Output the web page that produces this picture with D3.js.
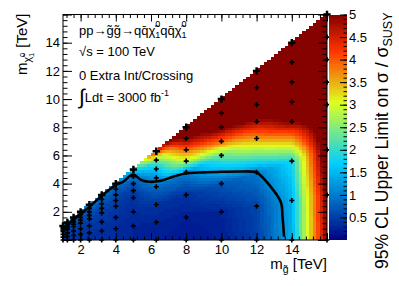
<!DOCTYPE html>
<html><head><meta charset="utf-8">
<script src="https://cdn.jsdelivr.net/npm/d3@7/dist/d3.min.js"></script>
<style>
body{margin:0;background:#fff}
svg{display:block}
text{font-family:"Liberation Sans",Arial,Helvetica,sans-serif;fill:#000;white-space:pre}
</style>
</head><body>
<svg id="chart" width="399" height="286"></svg>
<script>
// ---------------- data ----------------
const gluinoMasses = [1, 1.25, 1.6, 2, 2.5, 3.2, 4, 5, 6.3, 8, 10, 12, 14, 16];      // TeV
const massFractions = [0, 0.2, 0.4, 0.6, 0.7, 0.8, 0.9, 1.0];                      // m(chi)/m(gluino)
// 95% CL upper limit on sigma/sigma_SUSY, one row per gluino mass, one column per fraction
const limitRow1   = [0.45, 0.45, 0.5, 0.6, 0.7, 0.9, 1.3, 1.8];
const limitRow125 = [0.4, 0.4, 0.45, 0.55, 0.7, 0.95, 1.2, 1.5];
const limitRow16  = [0.4, 0.4, 0.45, 0.5, 0.6, 0.7, 0.85, 1.05];
const limitRow2   = [0.4, 0.4, 0.45, 0.5, 0.55, 0.65, 0.8, 1.05];
const limitRow25  = [0.4, 0.4, 0.45, 0.5, 0.55, 0.65, 0.8, 1.05];
const limitRow32  = [0.38, 0.38, 0.42, 0.48, 0.55, 0.65, 0.8, 1.05];
const limitRow4   = [0.35, 0.35, 0.4, 0.45, 0.5, 0.6, 0.75, 1.05];
const limitRow5   = [0.3, 0.3, 0.35, 0.4, 0.5, 0.65, 0.95, 1.6];
const limitRow63  = [0.25, 0.3, 0.4, 0.85, 1.2, 1.6, 2.4, 4.2];
const limitRow8   = [0.2, 0.25, 0.4, 1.05, 2.8, 3.9, 5.0, 6.0];
const limitRow10  = [0.25, 0.3, 0.7, 2.3, 3.9, 5.2, 6.0, 6.0];
const limitRow12  = [0.5, 0.55, 1.0, 3.6, 4.8, 6.0, 6.0, 6.0];
const limitRow14  = [1.4, 1.45, 1.8, 5.0, 6.0, 6.0, 6.0, 6.0];
const limitRow16T = [4.95, 5.05, 5.6, 6.0, 6.0, 6.0, 6.0, 6.0];
const limitValues = [limitRow1, limitRow125, limitRow16, limitRow2, limitRow25, limitRow32, limitRow4,
                     limitRow5, limitRow63, limitRow8, limitRow10, limitRow12, limitRow14, limitRow16T];
// limit = 1 contour
const contourX = [1.02, 1.25, 1.58, 2.05, 2.56, 3.18, 4.0, 4.41, 4.97, 5.45, 5.92, 6.48, 7.24, 7.95, 9.0, 10.0, 11.0, 11.86, 12.1, 13.37, 13.47, 13.56];
const contourY = [0.75, 1.0, 1.46, 1.89, 2.41, 3.12, 3.9, 4.13, 4.65, 4.25, 4.13, 4.18, 4.48, 4.72, 4.8, 4.84, 4.86, 4.84, 4.72, 2.71, 1.65, 0.23];
const xTickLabels = [2, 4, 6, 8, 10, 12, 14];
const yTickLabels = [2, 4, 6, 8, 10, 12, 14];
const zTickLabels = [0.5, 1, 1.5, 2, 2.5, 3, 3.5, 4, 4.5, 5];

// ---------------- layout ----------------
const svg = d3.select("#chart");
const X0 = 63, X1 = 327, Y0 = 240, Y1 = 14.5;
const x = d3.scaleLinear().domain([1, 16]).range([X0, X1]);
const y = d3.scaleLinear().domain([0, 16]).range([Y0, Y1]);
const zMin = 0, zMax = 5;
const z = d3.scaleLinear().domain([zMin, zMax]).range([Y0, Y1]);
const palette = d3.scaleLinear()
  .domain([0, 0.34, 0.61, 0.84, 1.0].map(s => zMin + s * (zMax - zMin)))
  .range(["rgb(0,0,130)", "rgb(0,207,255)", "rgb(222,255,31)", "rgb(255,51,0)", "rgb(130,0,0)"])
  .clamp(true);
const nLevels = 100;
const levelColor = v => {
  const step = (zMax - zMin) / nLevels;
  let k = Math.floor((v - zMin) / step);
  k = Math.max(0, Math.min(nLevels - 1, k));
  return palette(zMin + (k + 0.5) * step);
};

// value lookup from the measured grid (mass, fraction), drawn like a TGraph2D
function limitAt(mx, my) {
  const f = my / mx;
  let i = d3.bisectRight(gluinoMasses, mx) - 1;
  i = Math.max(0, Math.min(gluinoMasses.length - 2, i));
  let j = d3.bisectRight(massFractions, f) - 1;
  j = Math.max(0, Math.min(massFractions.length - 2, j));
  const t = Math.max(0, Math.min(1, (mx - gluinoMasses[i]) / (gluinoMasses[i + 1] - gluinoMasses[i])));
  const u = Math.max(0, Math.min(1, (f - massFractions[j]) / (massFractions[j + 1] - massFractions[j])));
  const a = limitValues[i][j], b = limitValues[i][j + 1], c = limitValues[i + 1][j], d = limitValues[i + 1][j + 1];
  return (1 - t) * ((1 - u) * a + u * b) + t * ((1 - u) * c + u * d);
}

// ---------------- heat map ----------------
const binW = 0.2, binH = 0.2;
const cells = [];
for (let bx = 1; bx < 16 - 1e-9; bx += binW) {
  for (let by = 0; by < 16 - 1e-9; by += binH) {
    const cx = bx + binW / 2, cy = by + binH / 2;
    if (cy <= cx) cells.push({ x0: bx, y0: by, v: limitAt(cx, cy) });
  }
}
svg.append("g").selectAll("rect").data(cells).join("rect")
  .attr("x", d => x(d.x0))
  .attr("y", d => y(d.y0 + binH))
  .attr("width", d => x(d.x0 + binW) - x(d.x0) + 0.4)
  .attr("height", d => y(d.y0) - y(d.y0 + binH) + 0.4)
  .attr("fill", d => levelColor(d.v))
  .attr("shape-rendering", "crispEdges");

// ---------------- contour ----------------
const contourPts = contourX.map((cx, i) => [cx, contourY[i]]);
svg.append("path")
  .attr("d", d3.line().x(d => x(d[0])).y(d => y(d[1])).curve(d3.curveCatmullRom.alpha(0.5))(contourPts))
  .attr("fill", "none").attr("stroke", "#000").attr("stroke-width", 2.6).attr("stroke-linejoin", "round");

// ---------------- markers ----------------
const pts = [];
gluinoMasses.forEach(m => massFractions.forEach(f => pts.push({ m, c: m * f, diag: f === 1 })));
svg.append("g").selectAll("path").data(pts).join("path")
  .attr("transform", d => `translate(${x(d.m)},${y(d.c)})`)
  .attr("d", d => d3.symbol(d3.symbolCross, d.diag ? 30 : 14)())
  .attr("fill", "#000");

// ---------------- axes ----------------
const tickFont = 13;
function styleAxis(g) {
  g.selectAll("text").attr("font-size", tickFont).attr("font-family", '"Liberation Sans",Arial,sans-serif');
  g.selectAll("line").attr("stroke", "#000");
  g.select(".domain").remove();
}
const xMinor = d3.range(0.4, 16.01, 0.4).filter(v => v >= 1 - 1e-9 && v <= 16 + 1e-9);
const yMinor = d3.range(0, 16.01, 0.4);
const xMajorAll = d3.range(2, 16.01, 2);
const yMajorAll = d3.range(0, 16.01, 2);
// bottom
svg.append("g").attr("transform", `translate(0,${Y0})`)
  .call(d3.axisBottom(x).tickValues(xMinor).tickSize(-3.5).tickFormat("")).call(styleAxis);
svg.append("g").attr("transform", `translate(0,${Y0})`)
  .call(d3.axisBottom(x).tickValues(xMajorAll).tickSize(-7).tickPadding(4.5)
    .tickFormat(d => xTickLabels.includes(d) ? d : "")).call(styleAxis);
// top
svg.append("g").attr("transform", `translate(0,${Y1})`)
  .call(d3.axisTop(x).tickValues(xMinor).tickSize(-3.5).tickFormat("")).call(styleAxis);
svg.append("g").attr("transform", `translate(0,${Y1})`)
  .call(d3.axisTop(x).tickValues(xMajorAll).tickSize(-7).tickFormat("")).call(styleAxis);
// left
svg.append("g").attr("transform", `translate(${X0},0)`)
  .call(d3.axisLeft(y).tickValues(yMinor).tickSize(-4.5).tickFormat("")).call(styleAxis);
svg.append("g").attr("transform", `translate(${X0},0)`)
  .call(d3.axisLeft(y).tickValues(yMajorAll).tickSize(-9).tickPadding(3)
    .tickFormat(d => yTickLabels.includes(d) ? d : "")).call(styleAxis);
// right
svg.append("g").attr("transform", `translate(${X1},0)`)
  .call(d3.axisRight(y).tickValues(yMinor).tickSize(-4.5).tickFormat("")).call(styleAxis);
svg.append("g").attr("transform", `translate(${X1},0)`)
  .call(d3.axisRight(y).tickValues(yMajorAll).tickSize(-9).tickFormat("")).call(styleAxis);
// frame
svg.append("rect").attr("x", X0).attr("y", Y1).attr("width", X1 - X0).attr("height", Y0 - Y1)
  .attr("fill", "none").attr("stroke", "#000").attr("stroke-width", 1);

// ---------------- colour bar ----------------
const CB0 = 329, CB1 = 347;
const bands = d3.range(nLevels).map(k => zMin + k * (zMax - zMin) / nLevels);
svg.append("g").selectAll("rect").data(bands).join("rect")
  .attr("x", CB0).attr("width", CB1 - CB0)
  .attr("y", d => z(d + (zMax - zMin) / nLevels))
  .attr("height", d => z(d) - z(d + (zMax - zMin) / nLevels) + 0.3)
  .attr("fill", d => palette(d + (zMax - zMin) / nLevels / 2))
  .attr("shape-rendering", "crispEdges");
svg.append("g").attr("transform", `translate(${CB1},0)`)
  .call(d3.axisRight(z).tickValues(d3.range(0.1, 5.001, 0.1)).tickSize(-3.5).tickFormat("")).call(styleAxis);
svg.append("g").attr("transform", `translate(${CB1},0)`)
  .call(d3.axisRight(z).tickValues(zTickLabels).tickSize(-7).tickPadding(2).tickFormat(d3.format("~g"))).call(styleAxis);

// ---------------- rich text helper ----------------
function rich(parent, pieces, base) {
  const g = parent.append("g");
  let cur = 0, prevStart = 0;
  pieces.forEach(p => {
    const size = p.s || base;
    const px = p.stack ? prevStart : cur + (p.dx || 0);
    const t = g.append("text").attr("x", px).attr("y", p.dy || 0).attr("font-size", size).text(p.t);
    const w = t.node().getComputedTextLength();
    if (!p.stack) prevStart = px;
    cur = Math.max(cur, px + w);
  });
  return { g, width: cur };
}

// process text
const L = svg.append("g").attr("transform", "translate(79,0)");
const b1 = 34.5;
rich(L, [
  { t: "pp\u2192g\u0303g\u0303\u2192qq\u0304", dy: b1 },
  { t: "\u03C7\u0303", dy: b1 },
  { t: "1", s: 9, dy: b1 + 3.5 },
  { t: "0", s: 9, dy: b1 - 8, stack: true },
  { t: "qq\u0304", dy: b1 },
  { t: "\u03C7\u0303", dy: b1 },
  { t: "1", s: 9, dy: b1 + 3.5 },
  { t: "0", s: 9, dy: b1 - 8, stack: true }
], 13);
rich(L, [{ t: "\u221As = 100 TeV", dy: 56 }], 13);
rich(L, [{ t: "0 Extra Int/Crossing", dy: 80 }], 13);
rich(L, [{ t: "\u222B", s: 21, dy: 104 }, { t: "Ldt = 3000 fb", dy: 101.5 }, { t: "-1", s: 9, dy: 95.5 }], 13);

// x axis title (right aligned)
const xt = rich(svg.append("g"), [
  { t: "m", s: 15 }, { t: "g\u0303", s: 10.5, dy: 4 }, { t: "\u00A0[TeV]", s: 15 }
], 15);
xt.g.attr("transform", `translate(${X1 - xt.width},269)`);

// y axis title (rotated, right aligned at top)
const ytG = svg.append("g");
const yt = rich(ytG, [
  { t: "m", s: 15 }, { t: "\u03C7\u0303", s: 10.5, dy: 4 }, { t: "1", s: 7.5, dy: 7 }, { t: "0", s: 7.5, dy: -2, stack: true },
  { t: "\u00A0[TeV]", s: 15, dx: 1 }
], 15);
ytG.attr("transform", `translate(27,${Y1 - 1}) rotate(-90) translate(${-yt.width},0)`);

// z title
const ztG = svg.append("g");
const zt = rich(ztG, [
  { t: "95% CL Upper Limit on \u03C3 / \u03C3", s: 17.6 }, { t: "SUSY", s: 12.5, dy: 4 }
], 17.6);
ztG.attr("transform", `translate(388,${Y1 - 2}) rotate(-90) translate(${-zt.width},0)`);
</script>
</body></html>
